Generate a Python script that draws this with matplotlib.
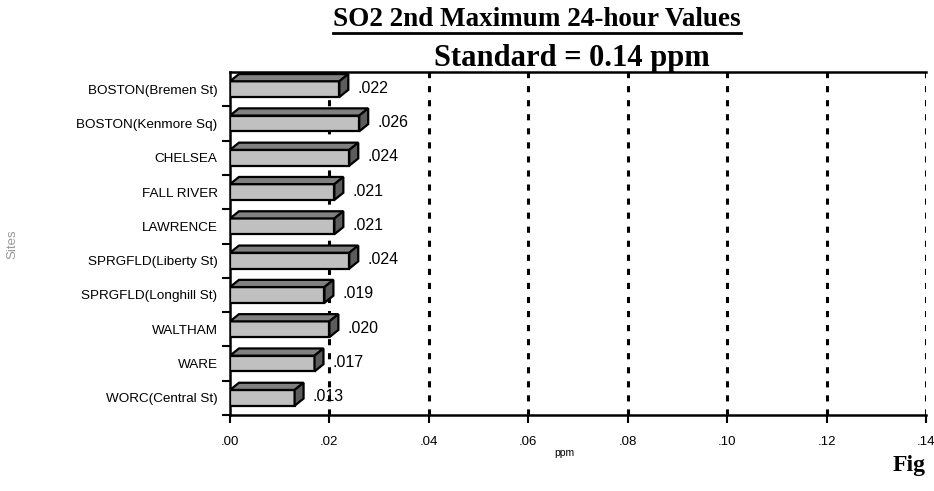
import matplotlib.pyplot as plt
from matplotlib.patches import Polygon
from matplotlib.lines import Line2D
import numpy as np

# -------------------------
# Data
# -------------------------
sites = ["BOSTON(Bremen St)", "BOSTON(Kenmore Sq)", "CHELSEA", "FALL RIVER",
         "LAWRENCE", "SPRGFLD(Liberty St)", "SPRGFLD(Longhill St)", "WALTHAM",
         "WARE", "WORC(Central St)"]
values = [0.022, 0.026, 0.024, 0.021, 0.021, 0.024, 0.019, 0.020, 0.017, 0.013]
value_labels = [".022", ".026", ".024", ".021", ".021", ".024", ".019", ".020", ".017", ".013"]
xticks = [0.00, 0.02, 0.04, 0.06, 0.08, 0.10, 0.12, 0.14]
xtick_labels = [".00", ".02", ".04", ".06", ".08", ".10", ".12", ".14"]

# -------------------------
# Plot
# -------------------------
plt.rcParams['font.family'] = ['Liberation Sans', 'DejaVu Sans']

fig = plt.figure(figsize=(9.34, 4.91), dpi=100)
ax = fig.add_axes([230 / 934, 1 - 415 / 491, 696 / 934, 343 / 491])

y = np.arange(len(sites))
h = 0.46        # front face height (category units)
dx = 0.0018     # depth in x (data units)
dy = 0.21       # depth in y (category units)

ax.barh(y, values, height=h, color="#c0c0c0", edgecolor="black", linewidth=1.6, zorder=3)
for yi, v in zip(y, values):
    top = [(0, yi - h / 2), (v, yi - h / 2), (v + dx, yi - h / 2 - dy), (dx, yi - h / 2 - dy)]
    side = [(v, yi - h / 2), (v, yi + h / 2), (v + dx, yi + h / 2 - dy), (v + dx, yi - h / 2 - dy)]
    ax.add_patch(Polygon(top, closed=True, facecolor="#808080", edgecolor="black", lw=1.6, zorder=3))
    ax.add_patch(Polygon(side, closed=True, facecolor="#5c5c5c", edgecolor="black", lw=1.6, zorder=3))

for yi, v, lab in zip(y, values, value_labels):
    ax.annotate(lab, (v, yi - 0.03), xytext=(13, 0), textcoords="offset points",
                ha="left", va="center", fontsize=11.5, zorder=4)

# dashed grid
for xv in xticks[1:]:
    ax.axvline(xv, color="black", lw=2.2, linestyle=(0, (2, 2.6)), zorder=1)

ax.set_xlim(0, 0.14)
ax.set_ylim(len(sites) - 0.5, -0.5)

ax.set_xticks(xticks)
ax.set_xticklabels(xtick_labels, fontsize=9.5)
ax.set_yticks(y)
ax.set_yticklabels(sites, fontsize=9.7)
ax.set_yticks(np.arange(len(sites)) + 0.5, minor=True)
ax.tick_params(axis="y", which="major", length=0, pad=9)
ax.tick_params(axis="y", which="minor", length=6, width=1.5, direction="out")
ax.tick_params(axis="x", length=6, width=1.5, direction="out", pad=9)

for s in ["left", "bottom", "top"]:
    ax.spines[s].set_linewidth(1.8)
ax.spines["right"].set_visible(False)

# titles
t1 = fig.text(537 / 934, 1 - 26 / 491, "SO2 2nd Maximum 24-hour Values", ha="center", va="baseline",
              fontsize=19.5, fontweight="bold", family="Liberation Serif")
fig.text(572 / 934, 1 - 66 / 491, "Standard = 0.14 ppm", ha="center", va="baseline",
         fontsize=22, fontweight="bold", family="Liberation Serif")
fig.text(564 / 934, 1 - 453 / 491, "ppm", ha="center", va="center", fontsize=7.5)
fig.text(12 / 934, 1 - 244 / 491, "Sites", ha="center", va="center", fontsize=9.5,
         rotation=90, color="#999999")
fig.text(893 / 934, 1 - 471 / 491, "Fig", ha="left", va="baseline",
         fontsize=17, fontweight="bold", family="Liberation Serif")

# underline for the first title line
fig.canvas.draw()
bb = t1.get_window_extent().transformed(fig.transFigure.inverted())
fig.add_artist(Line2D([bb.x0, bb.x1], [1 - 33 / 491] * 2, color="black", lw=2,
                      transform=fig.transFigure))

fig.savefig("out.png", dpi=100)
